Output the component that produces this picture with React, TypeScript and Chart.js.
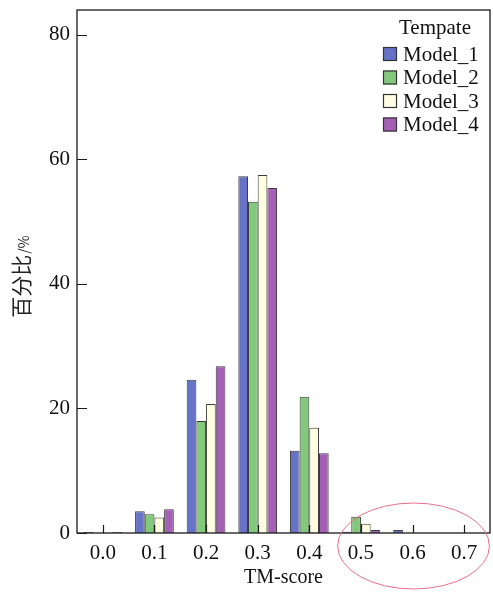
import React, { useEffect, useRef } from 'react';
import { Chart, registerables } from 'chart.js';

Chart.register(...registerables);

const categories = ['0.0', '0.1', '0.2', '0.3', '0.4', '0.5', '0.6', '0.7'];
const seriesNames = ['Model_1', 'Model_2', 'Model_3', 'Model_4'];
const model1 = [0.2, 3.5, 24.6, 57.3, 13.2, 0.2, 0.5, 0];
const model2 = [0.05, 3.0, 18.0, 53.2, 21.9, 2.6, 0, 0];
const model3 = [0.05, 2.5, 20.7, 57.5, 16.9, 1.5, 0, 0];
const model4 = [0.15, 3.8, 26.8, 55.4, 12.8, 0.5, 0, 0];
const fillColors = ['#6673c6', '#82c97c', '#fffde2', '#a460b4'];
const legendTitle = 'Tempate';
const xTitle = 'TM-score';
const yTitleMain = '百分比';
const yTitleUnit = '/%';
const yTicks = [0, 20, 40, 60, 80];

const SERIF = '"Liberation Serif", "Times New Roman", serif';

const framePlugin = {
  id: 'frameAndDecor',
  afterDatasetsDraw(chart: any) {
    const { ctx, chartArea, scales } = chart;
    const { left, right, top, bottom } = chartArea;
    const x = scales.x;
    const y = scales.y;
    ctx.save();
    ctx.strokeStyle = '#1a1a1a';
    ctx.lineWidth = 1.3;
    ctx.strokeRect(left, top, right - left, bottom - top);
    ctx.lineWidth = 1.2;
    ctx.beginPath();
    yTicks.forEach((v) => {
      const py = Math.round(y.getPixelForValue(v)) + 0.5;
      ctx.moveTo(left, py);
      ctx.lineTo(left + 10, py);
    });
    categories.forEach((_, i) => {
      const px = Math.round(x.getPixelForTick(i)) + 0.5;
      ctx.moveTo(px, bottom);
      ctx.lineTo(px, bottom - 8);
    });
    ctx.stroke();

    // y title (rotated)
    ctx.fillStyle = '#222';
    ctx.translate(22, 277);
    ctx.rotate(-Math.PI / 2);
    ctx.font = '21px "Noto Sans CJK SC"';
    const w1 = ctx.measureText(yTitleMain).width;
    ctx.font = '14px "Noto Sans CJK SC"';
    const w2 = ctx.measureText(yTitleUnit).width;
    const start = -(w1 + w2) / 2;
    ctx.textBaseline = 'alphabetic';
    ctx.font = '21px "Noto Sans CJK SC"';
    ctx.fillText(yTitleMain, start, 7);
    ctx.font = '14px "Noto Sans CJK SC"';
    ctx.fillText(yTitleUnit, start + w1 + 1, 7);
    ctx.setTransform(1, 0, 0, 1, 0, 0);

    // legend
    ctx.fillStyle = '#111';
    ctx.font = '21px ' + SERIF;
    ctx.textAlign = 'center';
    ctx.textBaseline = 'middle';
    ctx.fillText(legendTitle, 435, 28);
    ctx.textAlign = 'left';
    seriesNames.forEach((name, i) => {
      const cy = 54 + i * 23.5;
      ctx.fillStyle = fillColors[i];
      ctx.fillRect(383, cy - 7, 14, 14);
      ctx.strokeStyle = '#333';
      ctx.lineWidth = 1.2;
      ctx.strokeRect(383.5, cy - 6.5, 13, 13);
      ctx.fillStyle = '#111';
      ctx.fillText(name, 403, cy + 1);
    });

    // red ellipse annotation
    const cx = x.getPixelForTick(6);
    const step = x.getPixelForTick(1) - x.getPixelForTick(0);
    ctx.strokeStyle = '#e86f8a';
    ctx.lineWidth = 1;
    ctx.beginPath();
    ctx.ellipse(cx + 1, bottom + 13, step * 1.47, 43, 0, 0, Math.PI * 2);
    ctx.stroke();
    ctx.restore();
  },
};

export default function App() {
  const ref = useRef<HTMLCanvasElement | null>(null);
  useEffect(() => {
    document.body.style.margin = '0';
    const canvas = ref.current;
    if (!canvas) return;
    const data = [model1, model2, model3, model4];
    const chart = new Chart(canvas, {
      type: 'bar',
      data: {
        labels: categories,
        datasets: seriesNames.map((name, i) => ({
          label: name,
          data: data[i],
          backgroundColor: fillColors[i],
          borderColor: '#3c3c3c',
          borderWidth: 1,
          categoryPercentage: 0.75,
          barPercentage: 1.0,
        })),
      },
      options: {
        responsive: false,
        animation: false,
        devicePixelRatio: 1,
        layout: { padding: { top: 10, right: 3, left: 0, bottom: 0 } },
        plugins: {
          legend: { display: false },
          tooltip: { enabled: false },
        },
        scales: {
          x: {
            grid: { display: false, drawTicks: false },
            border: { display: false },
            ticks: {
              color: '#111',
              font: { family: SERIF, size: 21 },
              padding: 8,
              maxRotation: 0,
            },
            title: {
              display: true,
              text: xTitle,
              color: '#111',
              font: { family: SERIF, size: 20 },
              padding: { top: 0, bottom: 2 },
            },
            afterFit: (s: any) => {
              s.height = 59;
              s.paddingLeft = 0;
              s.paddingRight = 0;
            },
          },
          y: {
            min: 0,
            max: 84,
            grid: { display: false, drawTicks: false },
            border: { display: false },
            ticks: {
              stepSize: 20,
              includeBounds: false,
              color: '#111',
              font: { family: SERIF, size: 21 },
              padding: 7,
            },
            afterFit: (s: any) => {
              s.width = 77;
              s.paddingTop = 0;
              s.paddingBottom = 0;
            },
          },
        },
      },
      plugins: [framePlugin],
    });
    return () => chart.destroy();
  }, []);
  return (
    <div style={{ width: 493, height: 592 }}>
      <canvas ref={ref} width={493} height={592} style={{ display: 'block' }} />
    </div>
  );
}
